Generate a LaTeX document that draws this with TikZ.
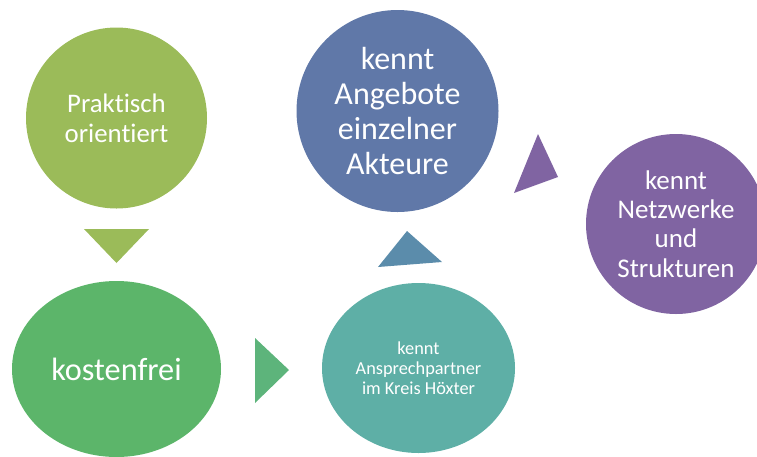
\documentclass[tikz,border=0pt]{standalone}
\usepackage{fontspec}
\setmainfont{Carlito}[Ligatures=NoCommon]
\usetikzlibrary{shapes.geometric}
\definecolor{olive}{HTML}{9BBB59}
\definecolor{grass}{HTML}{5CB56A}
\definecolor{grasstri}{HTML}{5DB47B}
\definecolor{sea}{HTML}{5EAFA6}
\definecolor{seatri}{HTML}{5B8CAB}
\definecolor{steel}{HTML}{6078A8}
\definecolor{lilac}{HTML}{8064A2}
\tikzset{
  bubble/.style={circle, inner sep=0pt, text=white, align=center},
  oval/.style={ellipse, inner sep=0pt, text=white, align=center},
}
\begin{document}
\begin{tikzpicture}[x=1pt,y=-1pt]
	\useasboundingbox (0,0) rectangle (757,456);
	\clip (0,0) rectangle (757,456);
	\node [bubble, fill=olive, minimum size=181pt, font=\fontsize{26.8}{30}\selectfont] (praktisch) at (116.5,118) {Praktisch\\orientiert};
	\node [oval, fill=grass, minimum width=209pt, minimum height=176pt, font=\fontsize{32.3}{38}\selectfont] (kosten) at (116.5,369) {kostenfrei};
	\node [oval, fill=sea, minimum width=193pt, minimum height=170pt, font=\fontsize{18.3}{20}\selectfont] (partner) at (418.5,368) {kennt\\Ansprechpartner\\im Kreis Höxter};
	\node [bubble, fill=steel, minimum size=202pt, font=\fontsize{32}{35}\selectfont] (angebote) at (397.5,111) {kennt\\Angebote\\einzelner\\Akteure};
	\node [bubble, fill=lilac, minimum size=180pt, font=\fontsize{27}{29.3}\selectfont] (netz) at (676,224) {kennt\\Netzwerke\\und\\Strukturen};
	% arrows
	\fill [olive] (84,229) -- (149,229) -- (116.5,263) -- cycle;
	\fill [grasstri] (255,338) -- (255,403) -- (289,370) -- cycle;
	\fill [seatri] (378,267) -- (442,262) -- (407,231) -- cycle;
	\fill [lilac] (538,134) -- (558,177) -- (514,193) -- cycle;
\end{tikzpicture}
\end{document}
